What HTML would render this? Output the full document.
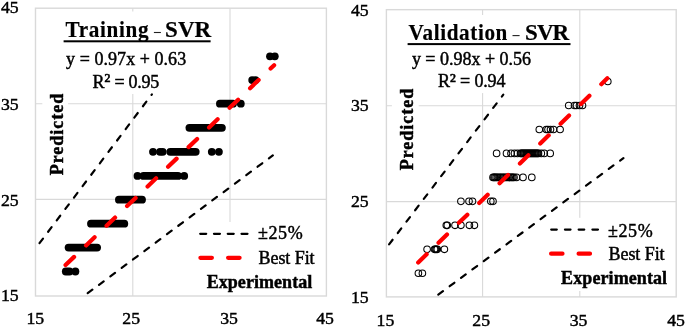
<!DOCTYPE html>
<html><head><meta charset="utf-8"><style>
html,body{margin:0;padding:0;background:#fff;width:685px;height:329px;overflow:hidden}
svg{display:block}
svg{will-change:transform}
text{font-family:"Liberation Serif",serif}
</style></head><body>
<svg width="685" height="329" viewBox="0 0 685 329">
<rect width="685" height="329" fill="#fff"/>
<line x1="132.8" y1="8.2" x2="132.8" y2="296.0" stroke="#d9d9d9" stroke-width="1.1"/>
<line x1="230.0" y1="8.2" x2="230.0" y2="296.0" stroke="#d9d9d9" stroke-width="1.1"/>
<line x1="35.5" y1="103.8" x2="326.4" y2="103.8" stroke="#d9d9d9" stroke-width="1.1"/>
<line x1="35.5" y1="199.4" x2="326.4" y2="199.4" stroke="#d9d9d9" stroke-width="1.1"/>
<rect x="60" y="11.5" width="160" height="82.5" fill="#fff"/>
<rect x="42.3" y="88" width="25.8" height="95" fill="#fff"/>
<rect x="190" y="222" width="130" height="73.3" fill="#fff"/>
<rect x="35.5" y="8.2" width="290.90" height="287.80" fill="none" stroke="#d9d9d9" stroke-width="1.4"/>
<line x1="39.5" y1="243.2" x2="151.90" y2="94.31" stroke="#000" stroke-width="2.2" stroke-linecap="round" stroke-dasharray="5.8 8.5"/>
<line x1="87.7" y1="293.2" x2="272.8" y2="155.4" stroke="#000" stroke-width="2.2" stroke-linecap="round" stroke-dasharray="5.8 8.32"/>
<line x1="65.8" y1="271.5" x2="69.5" y2="271.5" stroke="#000" stroke-width="7.8" stroke-linecap="round"/>
<circle cx="75.4" cy="271.5" r="3.9"/>
<line x1="68.6" y1="247.6" x2="97.1" y2="247.6" stroke="#000" stroke-width="7.8" stroke-linecap="round"/>
<line x1="91.0" y1="223.7" x2="124.3" y2="223.7" stroke="#000" stroke-width="7.8" stroke-linecap="round"/>
<line x1="118.9" y1="199.7" x2="142.0" y2="199.7" stroke="#000" stroke-width="7.8" stroke-linecap="round"/>
<circle cx="137.5" cy="175.9" r="3.9"/>
<line x1="143.5" y1="175.9" x2="178.0" y2="175.9" stroke="#000" stroke-width="7.8" stroke-linecap="round"/>
<circle cx="184.2" cy="175.9" r="3.9"/>
<circle cx="153" cy="151.8" r="3.9"/>
<circle cx="160" cy="151.8" r="3.9"/>
<circle cx="162.7" cy="151.8" r="3.9"/>
<line x1="170.3" y1="151.8" x2="195.7" y2="151.8" stroke="#000" stroke-width="7.8" stroke-linecap="round"/>
<circle cx="211.8" cy="151.8" r="3.9"/>
<circle cx="218.9" cy="151.8" r="3.9"/>
<line x1="189.4" y1="127.8" x2="221.9" y2="127.8" stroke="#000" stroke-width="7.8" stroke-linecap="round"/>
<line x1="219.9" y1="103.7" x2="233.0" y2="103.7" stroke="#000" stroke-width="7.8" stroke-linecap="round"/>
<circle cx="240.8" cy="103.7" r="3.9"/>
<circle cx="252.2" cy="80.1" r="3.9"/>
<circle cx="255.5" cy="80.1" r="3.9"/>
<circle cx="270.0" cy="56.3" r="3.9"/>
<circle cx="274.8" cy="56.3" r="3.9"/>
<line x1="65.57" y1="265.05" x2="274.12" y2="65.16" stroke="#f00" stroke-width="4.2" stroke-linecap="round" stroke-dasharray="11.8 16.6"/>
<g fill="#000" stroke="#000" stroke-width="0.45">
<text transform="translate(65.5,36.9) scale(0.9,1)" font-size="23.5" font-weight="bold" letter-spacing="0.75" stroke-width="0.2">Training</text>
<text x="165" y="36.9" font-size="23" font-weight="bold" letter-spacing="0.1" stroke-width="0.2">SVR</text>
<rect x="153.9" y="31.95" width="7.0" height="1.1" fill="#222" stroke="none"/>
<rect x="63.6" y="40.3" width="147" height="2" fill="#000" stroke="none"/>
<text x="66.1" y="65.45" font-size="18" letter-spacing="0.05">y = 0.97x + 0.63</text>
<text x="92.6" y="87.5" font-size="18" letter-spacing="-0.26">R<tspan font-size="20.5" dy="0.9">²</tspan><tspan dy="-0.9"> = 0.95</tspan></text>
<text transform="translate(62.8,175.3) rotate(-90)" font-size="18" font-weight="bold" letter-spacing="0.98">Predicted</text>
<text x="206.7" y="287.6" font-size="18" font-weight="bold" letter-spacing="0.05">Experimental</text>
<text x="258" y="239.4" font-size="18" letter-spacing="0.6">±25%</text>
<text x="258.5" y="263.9" font-size="18" letter-spacing="-0.06">Best Fit</text>
</g>
<line x1="200.2" y1="233.8" x2="247.5" y2="233.8" stroke="#000" stroke-width="2.2" stroke-linecap="round" stroke-dasharray="6 7.77"/>
<line x1="200.4" y1="257.85" x2="239.6" y2="257.85" stroke="#f00" stroke-width="4.2" stroke-linecap="round" stroke-dasharray="11.5 16.2"/>
<line x1="482.6" y1="9.66" x2="482.6" y2="296.9" stroke="#d9d9d9" stroke-width="1.1"/>
<line x1="579.8" y1="9.66" x2="579.8" y2="296.9" stroke="#d9d9d9" stroke-width="1.1"/>
<line x1="386.4" y1="105.7" x2="676.2" y2="105.7" stroke="#d9d9d9" stroke-width="1.1"/>
<line x1="386.4" y1="201.6" x2="676.2" y2="201.6" stroke="#d9d9d9" stroke-width="1.1"/>
<rect x="405" y="15" width="170" height="78.1" fill="#fff"/>
<rect x="391.9" y="84" width="26.8" height="95" fill="#fff"/>
<rect x="545" y="217.8" width="128" height="73.2" fill="#fff"/>
<rect x="386.4" y="9.66" width="289.80" height="287.24" fill="none" stroke="#d9d9d9" stroke-width="1.4"/>
<line x1="389.1" y1="244.4" x2="503.29" y2="94.67" stroke="#000" stroke-width="2.2" stroke-linecap="round" stroke-dasharray="5.8 8.5"/>
<line x1="438.3" y1="294.6" x2="623.4" y2="158.1" stroke="#000" stroke-width="2.2" stroke-linecap="round" stroke-dasharray="5.8 8.32"/>
<g fill="none" stroke="#000" stroke-width="1.05">
<circle cx="418.4" cy="273.2" r="3.3"/>
<circle cx="422.4" cy="273.2" r="3.3"/>
<circle cx="427.1" cy="249.3" r="3.3"/>
<circle cx="434.5" cy="249.3" r="3.3"/>
<circle cx="435.4" cy="249.3" r="3.3"/>
<circle cx="436.3" cy="249.3" r="3.3"/>
<circle cx="437.3" cy="249.3" r="3.3"/>
<circle cx="444.4" cy="249.3" r="3.3"/>
<circle cx="446.3" cy="225.3" r="3.3"/>
<circle cx="447.3" cy="225.3" r="3.3"/>
<circle cx="455" cy="225.3" r="3.3"/>
<circle cx="460.9" cy="225.3" r="3.3"/>
<circle cx="469.4" cy="225.3" r="3.3"/>
<circle cx="474.4" cy="225.3" r="3.3"/>
<circle cx="460.9" cy="201.35" r="3.3"/>
<circle cx="469" cy="201.35" r="3.3"/>
<circle cx="472.5" cy="201.35" r="3.3"/>
<circle cx="490.8" cy="201.35" r="3.3"/>
<circle cx="493" cy="201.35" r="3.3"/>
<circle cx="493" cy="177.4" r="3.3"/>
<circle cx="494" cy="177.4" r="3.3"/>
<circle cx="495" cy="177.4" r="3.3"/>
<circle cx="496.2" cy="177.4" r="3.3"/>
<circle cx="497.5" cy="177.4" r="3.3"/>
<circle cx="499" cy="177.4" r="3.3"/>
<circle cx="500.5" cy="177.4" r="3.3"/>
<circle cx="502" cy="177.4" r="3.3"/>
<circle cx="503.5" cy="177.4" r="3.3"/>
<circle cx="505" cy="177.4" r="3.3"/>
<circle cx="506.5" cy="177.4" r="3.3"/>
<circle cx="508" cy="177.4" r="3.3"/>
<circle cx="509.2" cy="177.4" r="3.3"/>
<circle cx="510.4" cy="177.4" r="3.3"/>
<circle cx="511.6" cy="177.4" r="3.3"/>
<circle cx="512.8" cy="177.4" r="3.3"/>
<circle cx="514" cy="177.4" r="3.3"/>
<circle cx="516.5" cy="177.4" r="3.3"/>
<circle cx="523" cy="177.4" r="3.3"/>
<circle cx="531.8" cy="177.4" r="3.3"/>
<circle cx="496.6" cy="153.4" r="3.3"/>
<circle cx="506.5" cy="153.4" r="3.3"/>
<circle cx="511" cy="153.4" r="3.3"/>
<circle cx="514.5" cy="153.4" r="3.3"/>
<circle cx="517.5" cy="153.4" r="3.3"/>
<circle cx="520.5" cy="153.4" r="3.3"/>
<circle cx="521.5" cy="153.4" r="3.3"/>
<circle cx="522.5" cy="153.4" r="3.3"/>
<circle cx="523.5" cy="153.4" r="3.3"/>
<circle cx="524.5" cy="153.4" r="3.3"/>
<circle cx="525.5" cy="153.4" r="3.3"/>
<circle cx="526.5" cy="153.4" r="3.3"/>
<circle cx="527.5" cy="153.4" r="3.3"/>
<circle cx="528.5" cy="153.4" r="3.3"/>
<circle cx="529.5" cy="153.4" r="3.3"/>
<circle cx="530.5" cy="153.4" r="3.3"/>
<circle cx="531.5" cy="153.4" r="3.3"/>
<circle cx="532.5" cy="153.4" r="3.3"/>
<circle cx="533.5" cy="153.4" r="3.3"/>
<circle cx="534.5" cy="153.4" r="3.3"/>
<circle cx="535.5" cy="153.4" r="3.3"/>
<circle cx="536.5" cy="153.4" r="3.3"/>
<circle cx="537.5" cy="153.4" r="3.3"/>
<circle cx="538.5" cy="153.4" r="3.3"/>
<circle cx="541.3" cy="153.4" r="3.3"/>
<circle cx="544.3" cy="153.4" r="3.3"/>
<circle cx="550.2" cy="153.4" r="3.3"/>
<circle cx="539.3" cy="129.5" r="3.3"/>
<circle cx="546.3" cy="129.5" r="3.3"/>
<circle cx="548" cy="129.5" r="3.3"/>
<circle cx="550.5" cy="129.5" r="3.3"/>
<circle cx="553.5" cy="129.5" r="3.3"/>
<circle cx="560.1" cy="129.5" r="3.3"/>
<circle cx="568.7" cy="105.5" r="3.3"/>
<circle cx="574.5" cy="105.5" r="3.3"/>
<circle cx="576.5" cy="105.5" r="3.3"/>
<circle cx="579.5" cy="105.5" r="3.3"/>
<circle cx="582.5" cy="105.5" r="3.3"/>
<circle cx="607.8" cy="81.5" r="3.3"/>
</g>
<line x1="418.2" y1="262.5" x2="607.3" y2="78.3" stroke="#f00" stroke-width="4.2" stroke-linecap="round" stroke-dasharray="11.8 16.6"/>
<g fill="#000" stroke="#000" stroke-width="0.45">
<text transform="translate(408.5,40) scale(0.9,1)" font-size="23.5" font-weight="bold" letter-spacing="0.7" stroke-width="0.2">Validation</text>
<text x="525" y="40" font-size="23" font-weight="bold" letter-spacing="-0.9" stroke-width="0.2">SVR</text>
<rect x="512.5" y="35.05" width="7.1" height="1.1" fill="#222" stroke="none"/>
<rect x="407.6" y="43.1" width="162.9" height="2" fill="#000" stroke="none"/>
<text x="411.9" y="64.7" font-size="18" letter-spacing="-0.01">y = 0.98x + 0.56</text>
<text x="437.9" y="86.7" font-size="18" letter-spacing="-0.16">R<tspan font-size="20.5" dy="0.9">²</tspan><tspan dy="-0.9"> = 0.94</tspan></text>
<text transform="translate(412.8,170.3) rotate(-90)" font-size="18" font-weight="bold" letter-spacing="0.98">Predicted</text>
<text x="561.1" y="283.9" font-size="18" font-weight="bold" letter-spacing="0.09">Experimental</text>
<text x="608" y="236.5" font-size="18" letter-spacing="0.6">±25%</text>
<text x="608.5" y="259.9" font-size="18" letter-spacing="-0.06">Best Fit</text>
</g>
<line x1="551.2" y1="229.6" x2="598" y2="229.6" stroke="#000" stroke-width="2.2" stroke-linecap="round" stroke-dasharray="5.6 8.13"/>
<line x1="551.1" y1="253.7" x2="590" y2="253.7" stroke="#f00" stroke-width="4.2" stroke-linecap="round" stroke-dasharray="11.4 16.1"/>
<g fill="#000" font-size="17.7" stroke="#000" stroke-width="0.45">
<text x="18.6" y="13.3" text-anchor="end">45</text>
<text x="18.6" y="110.0" text-anchor="end">35</text>
<text x="18.6" y="205.6" text-anchor="end">25</text>
<text x="18.6" y="300.8" text-anchor="end">15</text>
<text x="35.35" y="324.0" text-anchor="middle">15</text>
<text x="131.2" y="324.0" text-anchor="middle">25</text>
<text x="229" y="324.0" text-anchor="middle">35</text>
<text x="325" y="324.0" text-anchor="middle">45</text>
<text x="368.6" y="15.5" text-anchor="end">45</text>
<text x="368.6" y="111.2" text-anchor="end">35</text>
<text x="368.6" y="206.5" text-anchor="end">25</text>
<text x="368.6" y="303.2" text-anchor="end">15</text>
<text x="385.4" y="326.4" text-anchor="middle">15</text>
<text x="481.2" y="326.4" text-anchor="middle">25</text>
<text x="578.6" y="326.4" text-anchor="middle">35</text>
<text x="676" y="326.4" text-anchor="middle">45</text>
</g>
</svg>
</body></html>
